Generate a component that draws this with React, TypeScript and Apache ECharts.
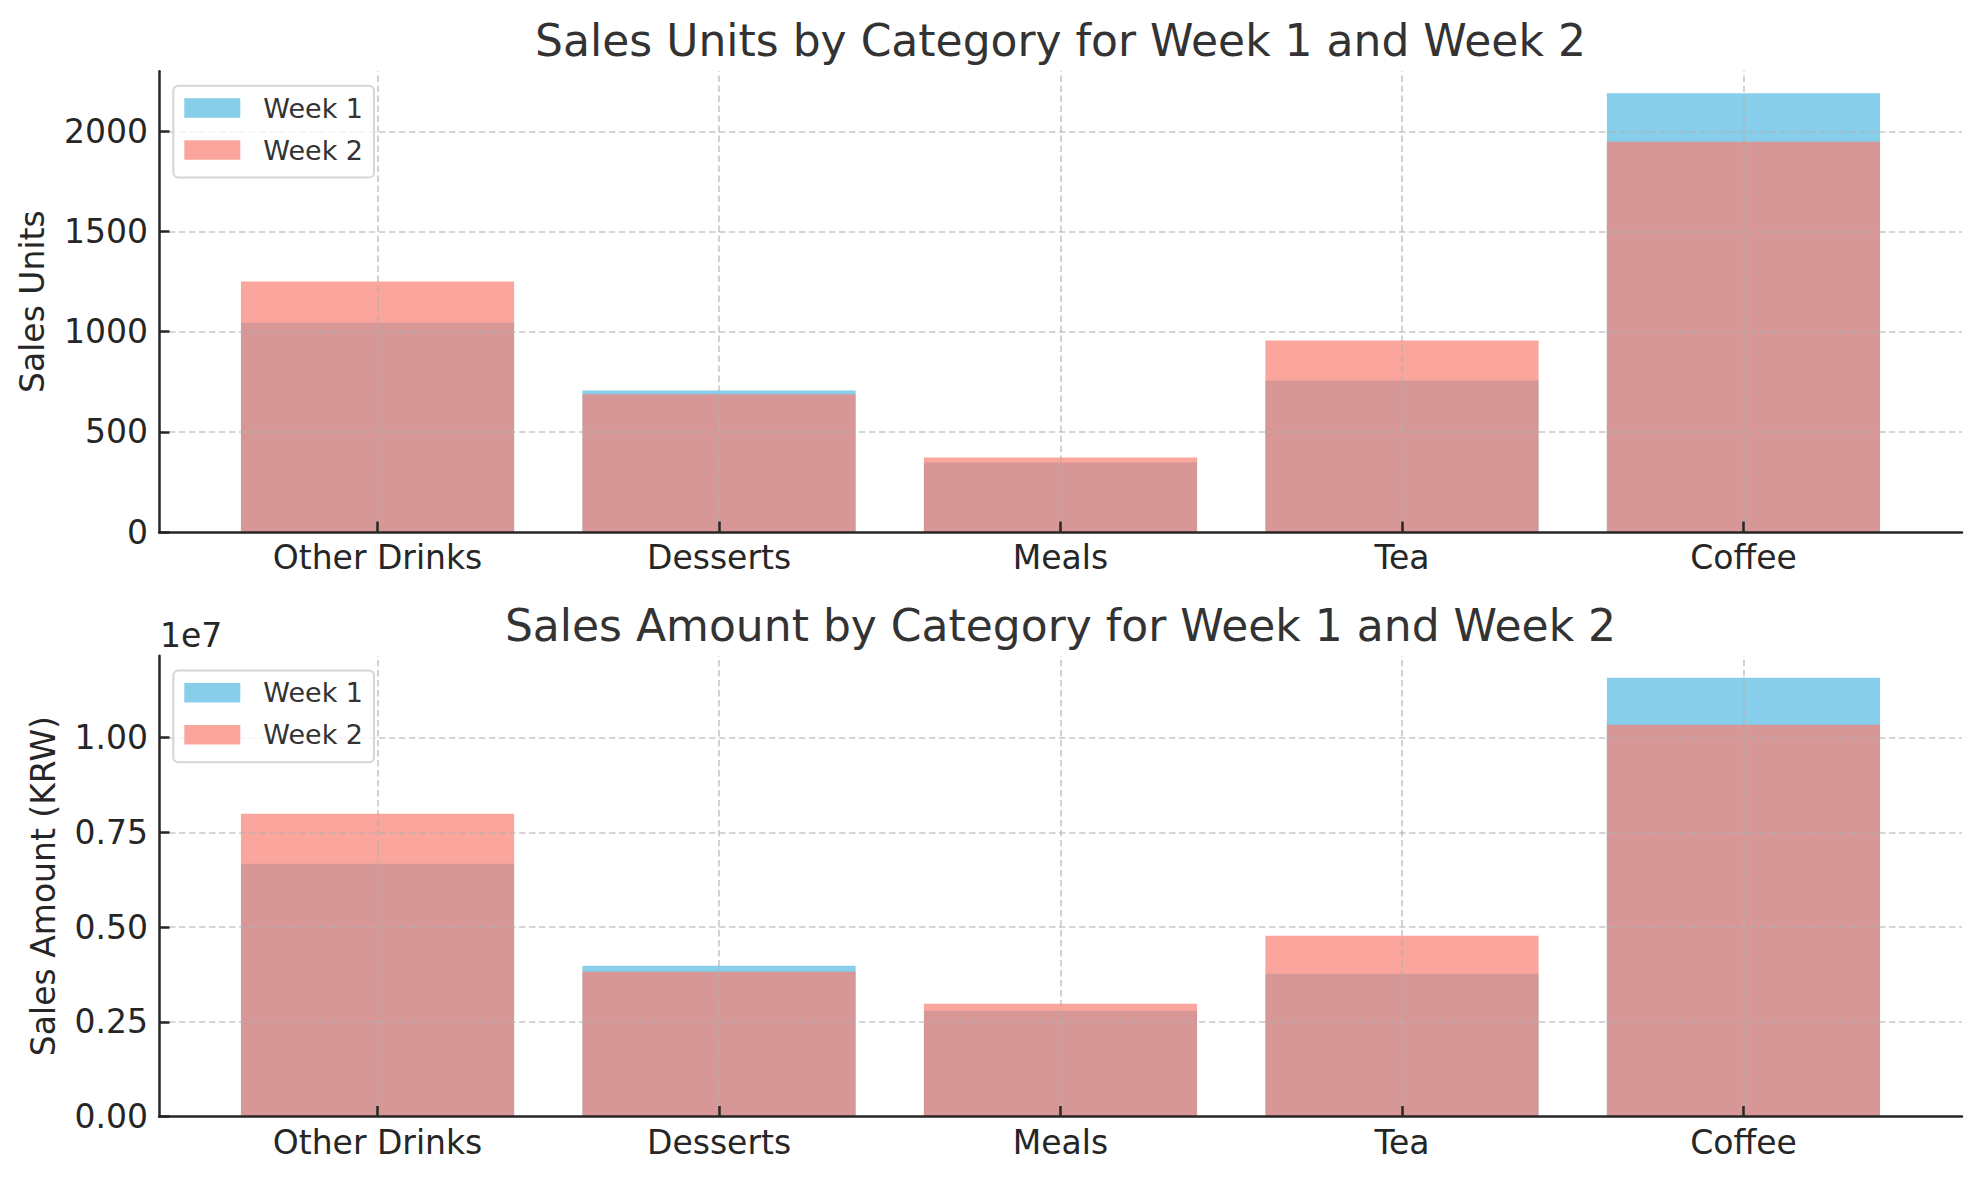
import React, { useEffect, useRef } from "react";
import * as echarts from "echarts";

const categories = ["Other Drinks", "Desserts", "Meals", "Tea", "Coffee"];
const seriesNames = ["Week 1", "Week 2"];
const unitsWeek1 = [1046, 706, 347, 756, 2190];
const unitsWeek2 = [1250, 688, 372, 956, 1948];
const amountWeek1 = [6670000, 3980000, 2790000, 3770000, 11580000];
const amountWeek2 = [7990000, 3820000, 2975000, 4770000, 10340000];
const unitsTicks = [0, 500, 1000, 1500, 2000];
const amountTicks = [0, 2500000, 5000000, 7500000, 10000000];
const titles = [
  "Sales Units by Category for Week 1 and Week 2",
  "Sales Amount by Category for Week 1 and Week 2",
];
const yNames = ["Sales Units", "Sales Amount (KRW)"];
const offsetText = "1e7";

const FONT = "DejaVu Sans";
const DARK = "#262626";
const W1 = "#87CEEB";
const W2 = "rgba(250,128,114,0.7)";
const GRIDLINE = { color: "rgba(176,176,176,0.7)", width: 1.6, type: [6.5, 3.5] as any };

export default function App() {
  const ref = useRef<HTMLDivElement>(null);
  useEffect(() => {
    if (!ref.current) return;
    const chart = echarts.init(ref.current, undefined, { renderer: "svg" });
    const catIdx = categories.map((_, i) => i);
    const xMin = -0.4 - 0.05 * (categories.length - 0.2);
    const xMax = categories.length - 1 + 0.4 + 0.05 * (categories.length - 0.2);

    const panels = [
      {
        w1: unitsWeek1,
        w2: unitsWeek2,
        ticks: unitsTicks,
        fmt: (v: number) => String(v),
        top: 71.3,
        height: 460.7,
        nameGap: 110,
        legendTop: 85.7,
      },
      {
        w1: amountWeek1,
        w2: amountWeek2,
        ticks: amountTicks,
        fmt: (v: number) => (v / 1e7).toFixed(2),
        top: 655.7,
        height: 460.8,
        nameGap: 99,
        legendTop: 670.5,
      },
    ];

    const grid: any[] = [];
    const xAxis: any[] = [];
    const yAxis: any[] = [];
    const series: any[] = [];
    const legend: any[] = [];

    panels.forEach((p, k) => {
      const yMax = Math.max(...p.w1, ...p.w2) * 1.05;
      grid.push({ left: 159, right: 17, top: p.top, height: p.height, containLabel: false });
      xAxis.push({
        gridIndex: k,
        type: "value",
        min: xMin,
        max: xMax,
        z: 10,
        axisLine: { show: true, onZero: false, lineStyle: { color: DARK, width: 2.5 } },
        axisTick: {
          show: true,
          inside: true,
          length: 10.5,
          customValues: catIdx,
          lineStyle: { color: DARK, width: 2.5 },
        },
        axisLabel: {
          customValues: catIdx,
          formatter: (v: number) =>
            Math.abs(v - Math.round(v)) < 1e-6 && categories[Math.round(v)] ? categories[Math.round(v)] : "",
          fontSize: 33,
          fontFamily: FONT,
          color: DARK,
          margin: 9,
        },
        splitLine: { show: false },
      });
      yAxis.push({
        gridIndex: k,
        type: "value",
        min: 0,
        max: yMax,
        z: 10,
        name: yNames[k],
        nameLocation: "middle",
        nameGap: p.nameGap,
        nameTextStyle: { fontSize: 33, fontFamily: FONT, color: DARK },
        axisLine: { show: true, onZero: false, lineStyle: { color: DARK, width: 2.5 } },
        axisTick: {
          show: true,
          inside: true,
          length: 10.5,
          customValues: p.ticks,
          lineStyle: { color: DARK, width: 2.5 },
        },
        axisLabel: {
          customValues: p.ticks,
          formatter: (v: number) => (p.ticks.indexOf(v) >= 0 ? p.fmt(v) : ""),
          fontSize: 33,
          fontFamily: FONT,
          color: DARK,
          margin: 11,
        },
        splitLine: { show: false },
      });
      series.push({
        type: "bar",
        name: seriesNames[0],
        xAxisIndex: k,
        yAxisIndex: k,
        data: p.w1.map((v, i) => [i, v]),
        barWidth: "80%",
        barGap: "-100%",
        itemStyle: { color: W1 },
        silent: true,
      });
      series.push({
        type: "bar",
        name: seriesNames[1],
        xAxisIndex: k,
        yAxisIndex: k,
        data: p.w2.map((v, i) => [i, v]),
        barWidth: "80%",
        barGap: "-100%",
        itemStyle: { color: W2 },
        silent: true,
        markLine: {
          silent: true,
          symbol: ["none", "none"],
          label: { show: false },
          lineStyle: GRIDLINE,
          emphasis: { disabled: true },
          data: [
            ...catIdx.map((i) => ({ xAxis: i })),
            ...p.ticks.filter((t) => t > 0).map((t) => ({ yAxis: t })),
          ],
        },
      });
      legend.push({
        data: seriesNames,
        orient: "vertical",
        left: 173.3,
        top: p.legendTop,
        z: 20,
        icon: "rect",
        itemWidth: 56,
        itemHeight: 19.4,
        itemGap: 15,
        padding: [8.8, 11, 14, 11],
        borderColor: "#d6d6d6",
        borderWidth: 2,
        borderRadius: 5,
        backgroundColor: "rgba(255,255,255,0.8)",
        selectedMode: false,
        textStyle: { fontSize: 27, fontFamily: FONT, color: "#333333", padding: [0, 0, 0, 18] },
      });
    });

    chart.setOption({
      animation: false,
      backgroundColor: "#ffffff",
      grid,
      xAxis,
      yAxis,
      series,
      legend,
      graphic: [
        {
          type: "text",
          x: 1060.5,
          y: 40.9,
          z: 100,
          style: { text: titles[0], fontSize: 44, fontFamily: FONT, fill: "#333333", align: "center", verticalAlign: "middle" },
        },
        {
          type: "text",
          x: 1060.5,
          y: 625.3,
          z: 100,
          style: { text: titles[1], fontSize: 44, fontFamily: FONT, fill: "#333333", align: "center", verticalAlign: "middle" },
        },
        {
          type: "text",
          x: 160,
          y: 635.3,
          z: 100,
          style: { text: offsetText, fontSize: 33, fontFamily: FONT, fill: DARK, align: "left", verticalAlign: "middle" },
        },
      ],
    });
    return () => chart.dispose();
  }, []);
  return (
    <div
      ref={ref}
      style={{ position: "absolute", left: 0, top: 0, width: 1979, height: 1180, background: "#fff" }}
    />
  );
}
